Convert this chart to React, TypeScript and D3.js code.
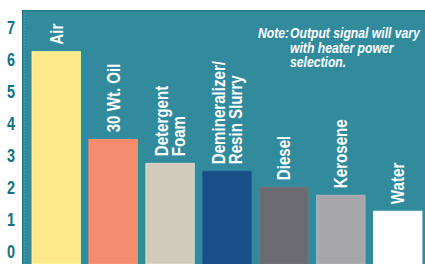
import React from "react";
import * as d3 from "d3";

const categories: string[][] = [
  ["Air"],
  ["30 Wt. Oil"],
  ["Detergent", "Foam"],
  ["Demineralizer/", "Resin Slurry"],
  ["Diesel"],
  ["Kerosene"],
  ["Water"],
];
const values: number[] = [6.25, 3.5, 2.75, 2.5, 2.0, 1.75, 1.25];
const barColors: string[] = ["#fde88c", "#f58c6e", "#d1cbbc", "#184f86", "#6b6b70", "#a7a7aa", "#ffffff"];
const yTicks: number[] = [0, 1, 2, 3, 4, 5, 6, 7];
const noteLines: string[] = ["Output signal will vary", "with heater power", "selection."];

const W = 425;
const H = 264;
const FONT = "'Liberation Sans Narrow', 'Arial Narrow', 'Liberation Sans', sans-serif";
const SQ = 0.8;
const SQL = 0.84;
const SQN = 0.87;

export default function App() {
  const x = d3
    .scaleBand<number>()
    .domain(values.map((_, i) => i))
    .range([32, 422])
    .paddingInner(0.15)
    .paddingOuter(0);
  const y = d3.scaleLinear().domain([0, 7]).range([251, 27.7]);
  const lineH = 17;
  const capHalf = 6.5;

  return (
    <div style={{ position: "fixed", left: 0, top: 0 }}>
      <svg width={W} height={H} style={{ display: "block" }}>
        <rect x={0} y={0} width={W} height={H} fill="#ffffff" />
        <rect x={22.5} y={10.5} width={W - 22} height={H} fill="#328a9d" stroke="#1a7385" strokeWidth={1} />
        <line x1={24.5} x2={24.5} y1={11} y2={H} stroke="#6fb2c0" strokeWidth={0.6} strokeDasharray="1,2" />
        {yTicks.map((t) => (
          <text
            key={t}
            transform={`translate(11,${y(t)}) scale(${SQ},1)`}
            textAnchor="middle"
            dominantBaseline="central"
            fill="#0f7181"
            fontFamily={FONT}
            fontWeight="bold"
            fontSize={18}
          >
            {t}
          </text>
        ))}
        {values.map((v, i) => (
          <rect
            key={i}
            x={x(i)}
            y={y(v)}
            width={x.bandwidth()}
            height={H - y(v)}
            fill={barColors[i]}
            stroke={d3.color(barColors[i])!.brighter(0.3).formatHex()}
            strokeWidth={0.8}
          />
        ))}
        {values.map((v, i) => {
          const lines = categories[i];
          const cx = (x(i) as number) + x.bandwidth() / 2;
          const bx = cx + capHalf - ((lines.length - 1) * lineH) / 2;
          const by = y(v) - 7;
          return (
            <text
              key={i}
              transform={`translate(${bx},${by}) rotate(-90) scale(${SQL},1)`}
              fill="#ffffff"
              fontFamily={FONT}
              fontWeight="bold"
              fontSize={18}
            >
              {lines.map((l, j) => (
                <tspan key={j} x={0} dy={j === 0 ? 0 : lineH}>
                  {l}
                </tspan>
              ))}
            </text>
          );
        })}
        <g fill="#ffffff" fontFamily={FONT} fontWeight="bold" fontStyle="italic" fontSize={14}>
          <text transform={`translate(258,38) scale(${SQN},1)`}>Note:</text>
          {noteLines.map((l, i) => (
            <text key={i} transform={`translate(290,${38 + i * 14.5}) scale(${SQN},1)`}>
              {l}
            </text>
          ))}
        </g>
      </svg>
    </div>
  );
}
